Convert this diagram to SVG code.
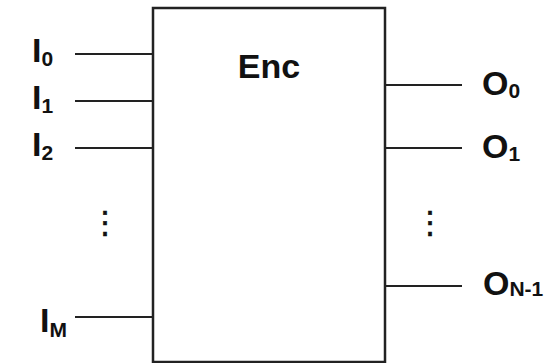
<svg xmlns="http://www.w3.org/2000/svg" width="560" height="363" viewBox="0 0 560 363">
  <style>
    .lbl { font-family: "Liberation Sans", Arial, Helvetica, sans-serif; font-weight: bold; font-size: 34px; fill: #111; }
    .sub { font-size: 21px; }
    .dots { font-family: "DejaVu Sans", sans-serif; font-size: 31px; stroke: #111; stroke-width: 0.6; fill: #111; }
    .wire { stroke: #222; stroke-width: 2; fill: none; }
    .box { stroke: #222; stroke-width: 2.5; fill: #fff; }
  </style>
  <rect width="560" height="363" fill="#fff"/>

  <!-- encoder block -->
  <g id="enc">
    <rect class="box" x="153" y="8" width="232" height="354"/>
    <text class="lbl" x="269" y="78" text-anchor="middle">Enc</text>
  </g>

  <!-- input and output wires -->
  <g id="connectors">
    <line class="wire" x1="75" y1="54" x2="153" y2="54"/>
    <line class="wire" x1="75" y1="101" x2="153" y2="101"/>
    <line class="wire" x1="75" y1="148" x2="153" y2="148"/>
    <line class="wire" x1="75" y1="317" x2="153" y2="317"/>
    <line class="wire" x1="385" y1="85" x2="462" y2="85"/>
    <line class="wire" x1="385" y1="148" x2="462" y2="148"/>
    <line class="wire" x1="385" y1="286" x2="462" y2="286"/>
  </g>

  <!-- input labels -->
  <g id="in0"><text class="lbl" x="32" y="62">I<tspan class="sub" dy="4">0</tspan></text></g>
  <g id="in1"><text class="lbl" x="32" y="109">I<tspan class="sub" dy="4">1</tspan></text></g>
  <g id="in2"><text class="lbl" x="32" y="156">I<tspan class="sub" dy="4">2</tspan></text></g>
  <g id="inDots"><text class="dots" x="105" y="233" text-anchor="middle">⋮</text></g>
  <g id="inM"><text class="lbl" x="40" y="332">I<tspan class="sub" dy="5">M</tspan></text></g>

  <!-- output labels -->
  <g id="out0"><text class="lbl" x="482" y="95">O<tspan class="sub" dy="3">0</tspan></text></g>
  <g id="out1"><text class="lbl" x="482" y="158">O<tspan class="sub" dy="3">1</tspan></text></g>
  <g id="outDots"><text class="dots" x="430" y="233" text-anchor="middle">⋮</text></g>
  <g id="outN1"><text class="lbl" x="483" y="295">O<tspan class="sub" dy="1">N-1</tspan></text></g>
</svg>
